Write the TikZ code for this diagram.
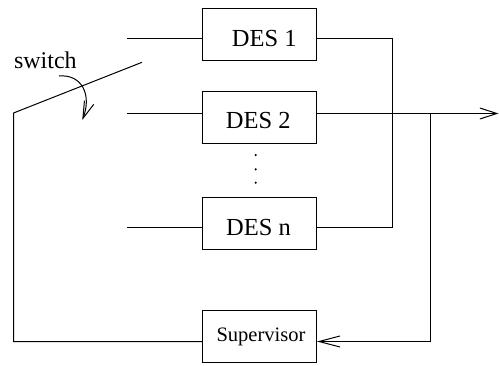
\documentclass[tikz,border=0pt]{standalone}
\usepackage{fontspec}
\setmainfont{Liberation Serif}
\newfontfamily\timesfont{Liberation Serif}
\usetikzlibrary{arrows.meta}
\begin{document}
\begin{tikzpicture}[x=1pt,y=-1pt,
  line width=1pt,
  box/.style={draw,line width=1pt,minimum width=114pt,minimum height=52pt,inner sep=0pt},
  lbl/.style={inner sep=0pt,anchor=base,font=\timesfont\fontsize{24.5}{28}\selectfont},
  slbl/.style={inner sep=0pt,anchor=base,font=\timesfont\fontsize{20.5}{24}\selectfont},
  openarrow/.style={-{Straight Barb[length=17pt,width=11pt,line width=1pt]}},
  supArrow/.style={-{Straight Barb[length=21pt,width=11pt,line width=1pt]}}]
\useasboundingbox (0,0) rectangle (499,365);
% boxes
\node[box] (d1) at (259.5,34.5) {};
\node[box] (d2) at (259.5,117.5) {};
\node[box] (dn) at (259.5,223.5) {};
\node[box] (sup) at (259.5,336.5) {};
% labels
\node[lbl] (t1) at (264.2,46.7) {DES 1};
\node[lbl] (t2) at (258.3,128.3) {DES 2};
\node[lbl] (tn) at (258.5,235) {DES n};
\node[slbl] (ts) at (261,341.7) {Supervisor};
\node[inner sep=0pt,anchor=base west,font=\timesfont\fontsize{24}{28}\selectfont] (sw) at (13.5,68.5) {switch};
% coordinates
\coordinate (i1) at (127,38.5);
\coordinate (i2) at (127,113.5);
\coordinate (in) at (127,227.5);
\coordinate (c1) at (392.5,38.5);
\coordinate (cn) at (392.5,227.5);
\coordinate (out) at (498.5,113.5);
\coordinate (br) at (430.5,113.5);
\coordinate (brd) at (430.5,341.5);
\coordinate (swtop) at (142,62.3);
\coordinate (swbot) at (13.5,113);
\coordinate (lbot) at (13.5,341.5);
\coordinate (ca) at (59,76);
\coordinate (cb) at (82.3,120);
% inputs
\draw (i1) -- (i1 -| d1.west);
\draw (i2) -- (i2 -| d2.west);
\draw (in) -- (in -| dn.west);
% outputs
\draw (c1 -| d1.east) -- (c1) -- (cn) -- (cn -| dn.east);
\draw[openarrow] (out -| d2.east) -- (out);
\draw[supArrow] (br) -- (brd) -- (brd -| sup.east);
% switch and feedback
\draw (swtop) -- (swbot) -- (lbot) -- (lbot -| sup.west);
% curved arrow
\draw[{Straight Barb[length=17pt,width=10pt,line width=1pt]}-] (cb) .. controls (92,95) and (82,74) .. (ca);
% dots
\fill (255.7,155) circle (1.2pt);
\fill (255.7,169.3) circle (1.2pt);
\fill (255.7,182.7) circle (1.2pt);
\end{tikzpicture}
\end{document}
